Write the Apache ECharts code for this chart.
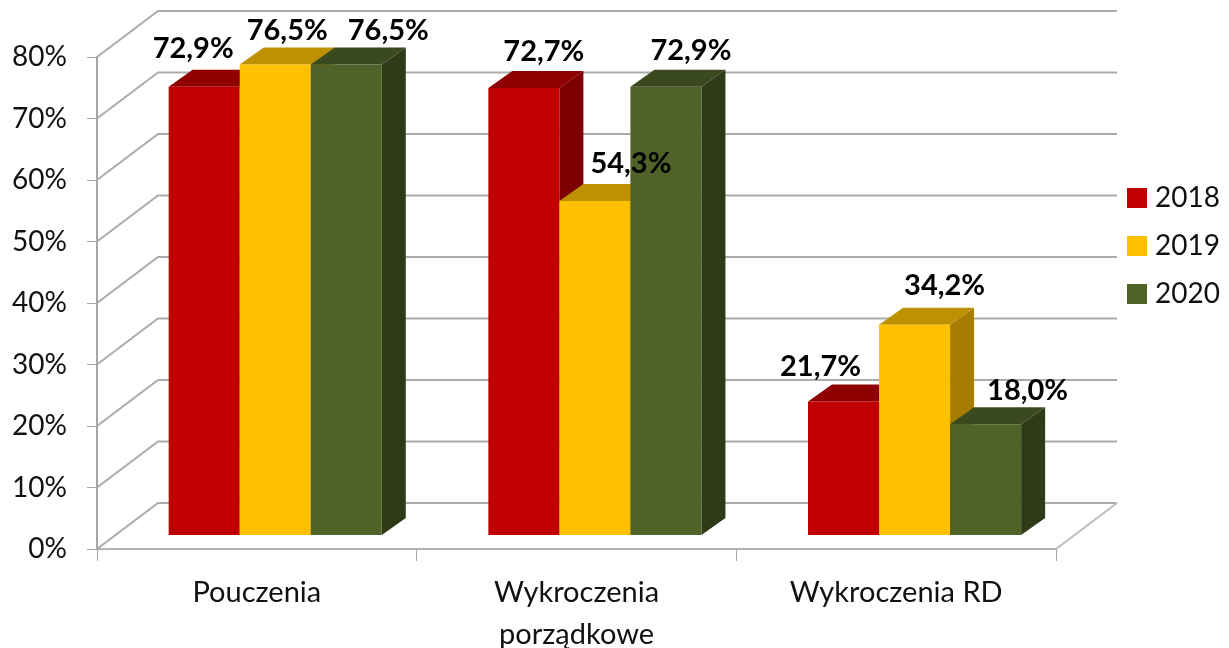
<!DOCTYPE html>
<html>
<head>
<meta charset="utf-8">
<style>html,body{margin:0;padding:0;background:#fff}#c{width:1229px;height:648px}</style>
<script src="https://cdn.jsdelivr.net/npm/echarts@6/dist/echarts.min.js"></script>
</head>
<body>
<div id="c"></div>
<script>
var categories = ['Pouczenia', 'Wykroczenia\nporządkowe', 'Wykroczenia RD'];
var seriesNames = ['2018', '2019', '2020'];
var values2018 = [72.9, 72.7, 21.7];
var values2019 = [76.5, 54.3, 34.2];
var values2020 = [76.5, 72.9, 18.0];
var yTicks = [0, 10, 20, 30, 40, 50, 60, 70, 80];

// Appearance and layout
var FONT = 'Lato, "Open Sans", sans-serif';
var TEXT = '#111111';
var WALL = [61, -46];       // depth of the chart box
var BAR_SHIFT = [18.4, -14]; // bars stand this far inside the box
var BAR_DEPTH = [24, -17];
var colours = [
  {front: '#C00000', top: '#8F0000', side: '#7D0000'},
  {front: '#FFC000', top: '#BF9000', side: '#A67D00'},
  {front: '#4F6228', top: '#3B491E', side: '#2F3A18'}
];
// label offsets from the top-centre of each bar's front face
var labelNudge = [
  [[-11, -38], [20, -36], [-23, -35]],
  [[12, -34], [36, -37], [30, -39]],
  [[42, -34], [25, -36], [42, -34]]
];

function fmt(v) { return v.toFixed(1).replace('.', ',') + '%'; }

function wallRender(params, api) {
  var cs = params.coordSys;
  var v = api.value(1);
  var y = api.coord([0, v])[1];
  var x0 = cs.x, x1 = cs.x + cs.width;
  var bx = x0 + WALL[0], by = y + WALL[1], ex = x1 + WALL[0];
  var children = [{
    type: 'polyline',
    shape: {points: [[x0, y], [bx, by], [ex, by]]},
    style: {fill: 'none', stroke: '#ababab', lineWidth: 2}
  }];
  if (v === 0) {
    children.push({
      type: 'line',
      shape: {x1: x1, y1: y, x2: ex, y2: by},
      style: {stroke: '#bdbdbd', lineWidth: 2}
    });
  }
  return {type: 'group', children: children};
}

function barRender(seriesIndex) {
  return function (params, api) {
    var cat = api.value(0), val = api.value(1);
    var base = api.coord([cat, 0]);
    var topPt = api.coord([cat, val]);
    var w = api.size([1, 0])[0] / 4.5;
    var x = base[0] + BAR_SHIFT[0] + (seriesIndex - 1.5) * w;
    var yB = base[1] + BAR_SHIFT[1];
    var yT = topPt[1] + BAR_SHIFT[1];
    var dx = BAR_DEPTH[0], dy = BAR_DEPTH[1];
    var c = colours[seriesIndex];
    var n = labelNudge[seriesIndex][params.dataIndex];
    return {type: 'group', children: [
      {type: 'polygon', shape: {points: [[x + w, yT], [x + w + dx, yT + dy], [x + w + dx, yB + dy], [x + w, yB]]}, style: {fill: c.side}},
      {type: 'polygon', shape: {points: [[x, yT], [x + w, yT], [x + w + dx, yT + dy], [x + dx, yT + dy]]}, style: {fill: c.top}},
      {type: 'rect', shape: {x: x, y: yT, width: w, height: yB - yT}, style: {fill: c.front}},
      {type: 'text', z2: 100, style: {
        x: x + w / 2 + n[0], y: yT + n[1], text: fmt(val),
        fill: '#000', font: 'bold 29px ' + FONT, align: 'center', verticalAlign: 'middle'
      }}
    ]};
  };
}

function pairs(arr) { return arr.map(function (v, i) { return [i, v]; }); }

var chart = echarts.init(document.getElementById('c'), null, {renderer: 'canvas'});
var seriesValues = [values2018, values2019, values2020];
var series = [{
  type: 'custom', name: 'walls', silent: true, z: 1,
  renderItem: wallRender,
  encode: {x: 0, y: 1},
  data: yTicks.map(function (t) { return [0, t]; })
}];
seriesNames.forEach(function (name, i) {
  series.push({
    type: 'custom', name: name, z: 3,
    itemStyle: {color: colours[i].front},
    renderItem: barRender(i),
    encode: {x: 0, y: 1},
    data: pairs(seriesValues[i])
  });
});

chart.setOption({
  animation: false,
  backgroundColor: '#ffffff',
  textStyle: {fontFamily: FONT},
  grid: {left: 97, right: 173, top: 57, bottom: 99, containLabel: false, outerBoundsMode: 'none'},
  legend: {
    data: seriesNames, orient: 'vertical', left: 1127, top: 184, padding: 0,
    icon: 'rect', itemWidth: 20, itemHeight: 20, itemGap: 20,
    selectedMode: false,
    textStyle: {fontFamily: FONT, fontSize: 28, color: TEXT, padding: [0, 0, 0, 3]}
  },
  xAxis: {
    type: 'category', data: categories,
    axisLine: {show: true, lineStyle: {color: '#b5b5b5', width: 2}},
    axisTick: {show: true, length: 12, lineStyle: {color: '#a6a6a6', width: 1}},
    axisLabel: {fontFamily: FONT, fontSize: 29, color: TEXT, margin: 23, lineHeight: 42, interval: 0},
    splitLine: {show: false}
  },
  yAxis: {
    type: 'value', min: 0, max: 80, interval: 10,
    axisLine: {show: true, lineStyle: {color: '#a6a6a6', width: 2}},
    axisTick: {show: true, length: 10, lineStyle: {color: '#a6a6a6', width: 1}},
    axisLabel: {fontFamily: FONT, fontSize: 28, color: TEXT, margin: 30, padding: [4, 0, 0, 0], formatter: '{value}%'},
    splitLine: {show: false}
  },
  tooltip: {show: false},
  series: series
});
</script>
</body>
</html>
